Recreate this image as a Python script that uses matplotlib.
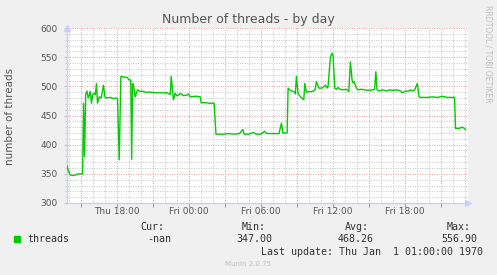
import matplotlib
matplotlib.use("Agg")
import matplotlib.pyplot as plt
from matplotlib.patches import Rectangle
from matplotlib.ticker import MultipleLocator

# hours since Thu 00:00
hours = [13.84, 13.95, 14.11, 14.4, 14.8, 15.14, 15.22, 15.30, 15.40, 15.50,
         15.61, 15.70, 15.78, 15.88, 15.98, 16.07, 16.20, 16.30, 16.38, 16.53,
         16.69, 16.88, 17.00, 17.08, 17.44, 17.69, 17.95, 18.05, 18.19, 18.33,
         18.61, 18.86, 19.02, 19.15, 19.23, 19.30, 19.38, 19.52, 19.72, 19.94,
         20.08, 20.36, 20.77, 21.20, 21.61, 22.16, 22.44, 22.52, 22.71, 22.85,
         22.99, 23.13, 23.27, 23.55, 23.83, 23.96, 24.10, 24.60, 24.94, 25.02,
         25.44, 25.71, 26.10, 26.25, 26.8, 27.3, 27.8, 28.2, 28.49, 28.6,
         29.0, 29.37, 29.6, 30.0, 30.29, 30.5, 31.0, 31.5, 31.71, 31.82,
         32.18, 32.26, 32.45, 32.74, 32.87, 32.95, 33.10, 33.29, 33.57, 33.65,
         33.79, 33.99, 34.26, 34.51, 34.62, 34.82, 35.09, 35.37, 35.51, 35.59,
         35.79, 35.93, 36.01, 36.15, 36.28, 36.42, 36.59, 36.84, 37.12, 37.32,
         37.45, 37.59, 37.67, 37.76, 37.95, 38.09, 38.37, 38.65, 38.92, 39.34,
         39.47, 39.57, 39.67, 39.82, 40.17, 40.45, 40.73, 41.01, 41.28, 41.65,
         41.78, 42.06, 42.34, 42.48, 42.61, 42.81, 43.03, 43.17, 43.31, 43.86,
         44.28, 44.69, 45.11, 45.53, 46.03, 46.13, 46.21, 46.50, 46.78, 47.06]
threads = [364, 355, 348, 347, 350, 350, 471, 380, 487, 492,
           480, 485, 491, 471, 486, 488, 486, 505, 471, 482,
           480, 502, 482, 480, 481, 479, 480, 479, 374, 517,
           516, 515, 511, 511, 375, 505, 502, 482, 494, 491,
           492, 490, 490, 489, 489, 489, 486, 517, 477, 488,
           484, 485, 488, 484, 485, 487, 482, 483, 482, 472,
           472, 471, 471, 418, 418, 419, 418, 419, 426, 418,
           418, 421, 418, 418, 423, 419, 419, 419, 437, 420,
           420, 497, 493, 491, 487, 517, 487, 482, 477, 505,
           490, 491, 491, 494, 508, 497, 497, 502, 497, 500,
           551, 556.9, 552, 497, 495, 498, 495, 494, 495, 491,
           542, 511, 506, 508, 497, 494, 495, 494, 493, 494,
           495, 525, 494, 492, 494, 492, 494, 493, 494, 492,
           489, 492, 492, 494, 492, 494, 505, 482, 481, 481,
           482, 481, 483, 481, 481, 481, 428, 428, 430, 426]

tick_hours = [18, 24, 30, 36, 42]
tick_labels = ["Thu 18:00", "Fri 00:00", "Fri 06:00", "Fri 12:00", "Fri 18:00"]
stat_names = ["Cur:", "Min:", "Avg:", "Max:"]
stat_values = ["-nan", "347.00", "468.26", "556.90"]

W, H = 497, 275
txt = "#555555"
fig = plt.figure(figsize=(W / 100, H / 100), dpi=100, facecolor="#F0F0F0")
ax = fig.add_axes([67 / W, 1 - 203 / H, 401 / W, 175 / H])
ax.set_facecolor("white")
ax.set_axisbelow(True)

ax.plot(hours, threads, color="#00CC00", lw=1.0, zorder=3)
ax.set_xlim(13.84, 47.25)
ax.set_ylim(300, 600)

ax.xaxis.set_major_locator(MultipleLocator(3))
ax.xaxis.set_minor_locator(MultipleLocator(1))
ax.yaxis.set_major_locator(MultipleLocator(50))
ax.yaxis.set_minor_locator(MultipleLocator(10))
ax.grid(which="minor", color="#C4C4C4", linestyle=(0, (1, 1.5)), lw=0.7)
ax.grid(which="major", color="#E49A9A", linestyle=(0, (1, 1.5)), lw=0.7)
ax.tick_params(axis="x", which="major", colors="#E08080", length=3, width=0.8, labelbottom=False)
ax.tick_params(axis="x", which="minor", length=0)
ax.tick_params(axis="y", which="major", colors="#C0C0C0", length=2, width=0.8,
               labelcolor=txt, labelsize=6.5, pad=5)
ax.tick_params(axis="y", which="minor", colors="#C8C8C8", length=1.5, width=0.6)
for h, lab in zip(tick_hours, tick_labels):
    ax.text(h, -0.05, lab, transform=ax.get_xaxis_transform(), ha="center", va="center",
            fontsize=6.5, color=txt)

for s in ["top", "right"]:
    ax.spines[s].set_visible(False)
for s in ["left", "bottom"]:
    ax.spines[s].set_color("#C8CCFF")
    ax.spines[s].set_linewidth(1)
ax.plot([1.0], [0], marker=">", ms=5, color="#C8D0FF", transform=ax.transAxes, clip_on=False)
ax.plot([0], [1.0], marker="^", ms=5, color="#C8D0FF", transform=ax.transAxes, clip_on=False)

fig.text(0.5, 1 - 19 / H, "Number of threads - by day", ha="center", va="center",
         fontsize=9, color=txt)
fig.text(10 / W, 1 - 116 / H, "number of threads", rotation=90, ha="center", va="center",
         fontsize=7.5, color=txt)
fig.text(488 / W, 1 - 5 / H, "RRDTOOL / TOBI OETIKER", rotation=270, ha="center", va="top",
         fontsize=5.5, color="#C0C0C0")

mono = "DejaVu Sans Mono"
fig.patches.append(Rectangle((14 / W, 1 - 242 / H), 6 / W, 6 / H, transform=fig.transFigure,
                             color="#00CC00"))
fig.text(27 / W, 1 - 239.5 / H, "threads", family=mono, fontsize=7.2, color="#333333", va="center")
name_x = [140, 242, 345, 447]
value_x = [147, 236, 338, 441]
for nx, vx, n, v in zip(name_x, value_x, stat_names, stat_values):
    fig.text(nx / W, 1 - 227.5 / H, n, family=mono, fontsize=7.2, color="#333333", va="center")
    fig.text(vx / W, 1 - 239.5 / H, v, family=mono, fontsize=7.2, color="#333333", va="center")
fig.text(261 / W, 1 - 251.7 / H, "Last update: Thu Jan  1 01:00:00 1970", family=mono,
         fontsize=7.2, color="#333333", va="center")
fig.text(248 / W, 1 - 264 / H, "Munin 2.0.75", ha="center", va="center", fontsize=5,
         color="#C0C0C0")

fig.savefig("out.png", dpi=100, facecolor=fig.get_facecolor())
